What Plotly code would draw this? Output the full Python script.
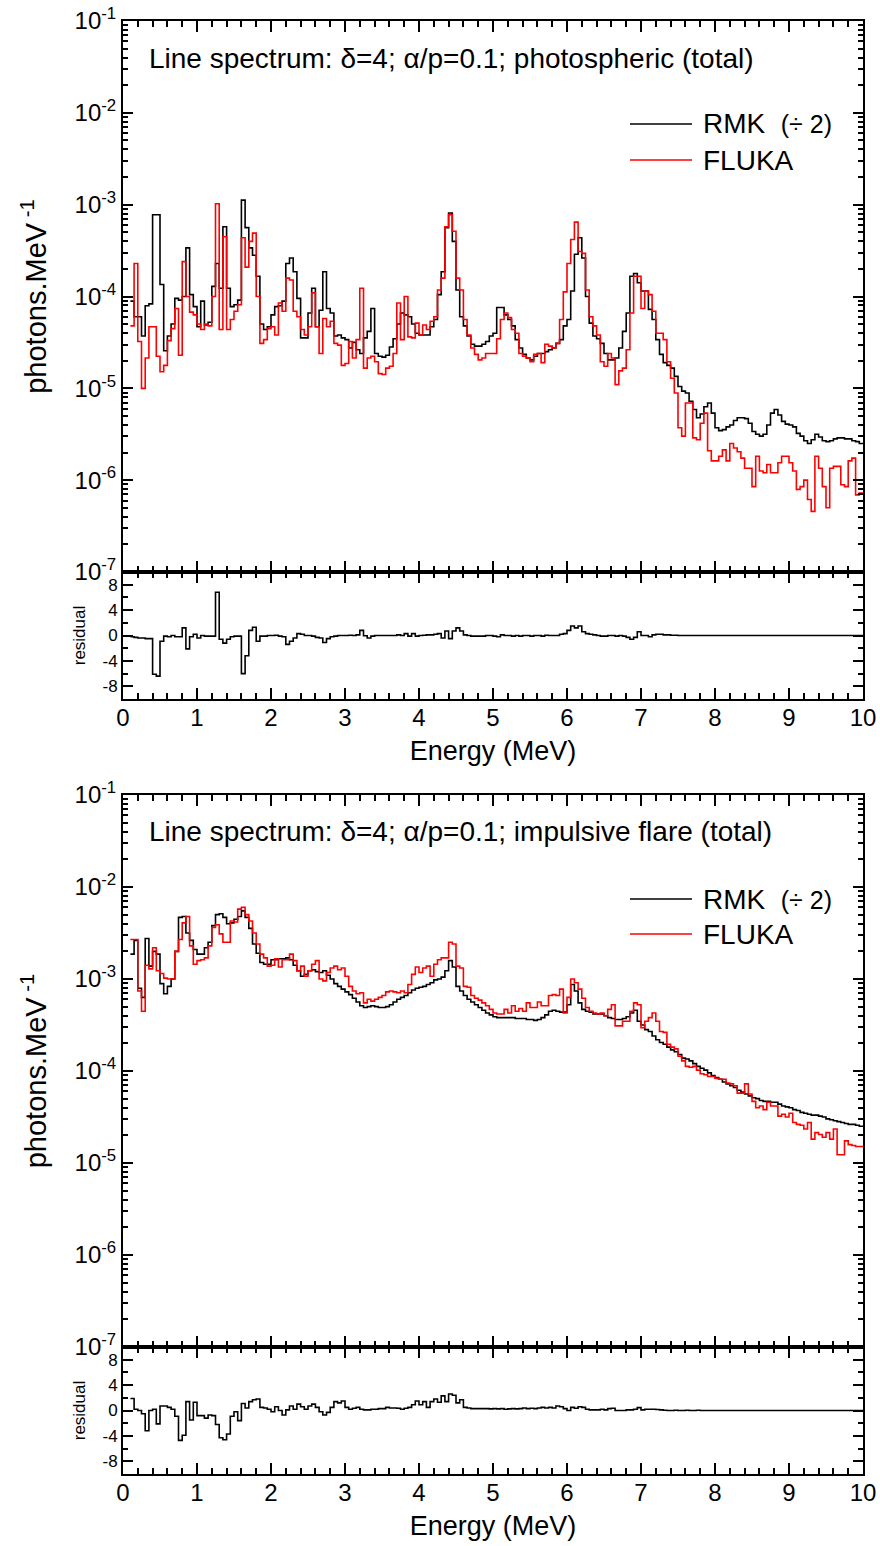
import plotly.graph_objects as go

# ---------------- data (log10 of photons/MeV, 0.05 MeV bins starting at 0.10 MeV) -------------
E0 = 0.10
DE = 0.05

rmk_top_log = [
    -4.05, -4.22, -4.22, -4.43, -4.10, -4.08, -3.11, -3.11,
    -3.87, -4.59, -4.43, -4.30, -4.02, -4.04, -4.00, -3.47, -3.98, -4.11,
    -4.33, -4.05, -4.31, -4.28, -3.89, -3.64, -3.91, -3.24, -3.91, -4.11,
    -4.09, -4.04, -2.95, -3.25, -3.47, -3.55, -3.78, -4.30, -4.36, -4.33,
    -4.20, -4.11, -4.10, -4.05, -3.64, -3.58, -3.73, -4.02, -4.45, -4.45,
    -4.18, -3.91, -4.33, -4.15, -3.73, -4.13, -4.18, -4.43, -4.42, -4.45,
    -4.47, -4.56, -4.50, -4.58, -4.62, -4.45, -4.38, -4.13, -4.62, -4.65,
    -4.66, -4.64, -4.55, -4.46, -4.30, -4.18, -4.20, -4.22, -4.30, -4.40,
    -4.42, -4.42, -4.42, -4.33, -4.25, -3.98, -3.73, -3.25, -3.09, -3.40,
    -3.93, -4.22, -4.32, -4.43, -4.52, -4.54, -4.54, -4.52, -4.49, -4.43,
    -4.40, -4.12, -4.12, -4.20, -4.25, -4.32, -4.47, -4.56, -4.63, -4.67,
    -4.69, -4.65, -4.62, -4.62, -4.60, -4.58, -4.56, -4.51, -4.47, -4.32,
    -4.25, -3.94, -3.54, -3.36, -3.58, -4.00, -4.29, -4.43, -4.46, -4.51,
    -4.62, -4.69, -4.69, -4.67, -4.56, -4.38, -4.18, -3.78, -3.75, -3.85,
    -3.94, -3.94, -4.14, -4.25, -4.47, -4.63, -4.72, -4.75, -4.78, -4.87,
    -4.98, -5.03, -5.05, -5.14, -5.23, -5.32, -5.28, -5.20, -5.16, -5.27,
    -5.43, -5.46, -5.45, -5.42, -5.40, -5.35, -5.32, -5.32, -5.33, -5.38,
    -5.47, -5.50, -5.52, -5.50, -5.40, -5.27, -5.23, -5.29, -5.36, -5.39,
    -5.40, -5.42, -5.49, -5.52, -5.57, -5.60, -5.56, -5.50, -5.53, -5.57,
    -5.58, -5.57, -5.55, -5.54, -5.54, -5.55, -5.55, -5.57, -5.58, -5.60,
]

fluka_top_log = [
    -4.32, -3.64, -4.49, -5.00, -4.67, -4.33, -4.33, -4.65,
    -4.82, -4.75, -4.48, -4.35, -4.13, -4.64, -3.62, -4.00, -4.17, -4.20,
    -4.30, -4.36, -4.30, -4.32, -4.00, -2.99, -4.36, -3.35, -4.36, -4.25,
    -4.16, -4.09, -3.36, -3.68, -3.40, -3.31, -4.00, -4.51, -4.47, -4.35,
    -4.33, -4.42, -4.07, -4.16, -3.80, -3.82, -4.16, -4.22, -4.36, -4.42,
    -4.33, -3.96, -4.33, -4.62, -4.24, -4.33, -4.27, -4.51, -4.53, -4.75,
    -4.73, -4.49, -4.67, -4.47, -3.91, -4.78, -4.67, -4.65, -4.71, -4.84,
    -4.85, -4.78, -4.76, -4.62, -4.07, -4.47, -4.00, -4.44, -4.45, -4.29,
    -4.42, -4.31, -4.36, -4.27, -4.22, -3.93, -3.80, -3.24, -3.11, -3.29,
    -3.80, -3.93, -4.25, -4.42, -4.56, -4.63, -4.69, -4.67, -4.62, -4.62,
    -4.62, -4.46, -4.25, -4.18, -4.23, -4.36, -4.40, -4.62, -4.65, -4.67,
    -4.71, -4.63, -4.62, -4.72, -4.52, -4.54, -4.56, -4.51, -4.25, -3.95,
    -3.64, -3.38, -3.19, -3.51, -3.53, -3.93, -4.22, -4.32, -4.42, -4.71,
    -4.76, -4.62, -4.67, -4.96, -4.81, -4.78, -4.58, -4.18, -3.78, -3.78,
    -4.13, -3.94, -3.98, -4.16, -4.40, -4.40, -4.47, -4.71, -4.89, -5.05,
    -5.43, -5.52, -5.16, -5.16, -5.54, -5.56, -5.38, -5.27, -5.68, -5.79,
    -5.79, -5.74, -5.67, -5.79, -5.60, -5.65, -5.69, -5.76, -5.87, -5.87,
    -6.07, -5.74, -5.90, -5.92, -5.83, -5.92, -5.92, -5.81, -5.74, -5.74,
    -5.81, -5.90, -6.10, -6.07, -6.00, -6.21, -6.34, -5.74, -5.87, -6.07,
    -6.30, -5.87, -5.85, -5.85, -6.05, -6.07, -5.79, -5.76, -6.16, -6.14,
]

resid_top = [
    -0.2, -0.3, -0.4, -0.4, -0.5, -0.5, -6.1, -6.4,
    -0.9, -0.1, -0.2, 0.0, -0.2, -0.2, 1.2, -2.1, -0.2, 0.2,
    -0.4, 0.0, -0.1, -0.1, -0.1, 6.8, -0.6, -1.2, -0.6, -0.2,
    -0.1, -0.1, -6.0, -3.2, 0.8, 1.3, -0.9, -0.1, -0.1, 0.0,
    0.0, 0.05, -0.1, -0.2, -1.4, -0.9, -0.4, 0.3, 0.2, 0.0,
    0.0, -0.1, -0.3, -0.4, -1.1, -0.5, -0.2, -0.1, 0.0, 0.0,
    0.0, 0.05, 0.0, 0.1, 0.8, -0.05, -0.4, -0.1, 0.0, 0.0,
    0.0, 0.0, 0.0, 0.0, 0.1, 0.0, 0.3, -0.1, 0.3, -0.1,
    0.0, 0.05, 0.1, 0.1, 0.2, 0.3, -0.4, 0.7, -0.5, 0.7,
    1.2, 0.7, 0.1, 0.0, -0.1, -0.1, -0.1, -0.1, 0.0, 0.0,
    -0.1, -0.2, 0.1, 0.0, 0.0, -0.1, 0.0, -0.1, 0.0, 0.0,
    -0.1, 0.0, 0.0, -0.1, 0.05, 0.0, 0.0, 0.0, 0.2, 0.3,
    0.8, 1.5, 1.2, 1.5, 0.6, 0.3, 0.2, 0.1, 0.0, -0.1,
    -0.1, 0.0, 0.0, -0.1, 0.0, -0.1, -0.3, -0.6, -0.3, 0.6,
    0.0, 0.0, -0.2, 0.1, 0.2, 0.2, 0.1, 0.1, 0.05, 0.05,
    0.0, 0.0, 0.0, 0.0, 0.0, 0.0, 0.0, 0.0, 0.0, 0.0,
    0.0, 0.0, 0.0, 0.0, 0.0, 0.0, 0.0, 0.0, 0.0, 0.0,
    0.0, 0.0, 0.0, 0.0, 0.0, 0.0, 0.0, 0.0, 0.0, 0.0,
    0.0, 0.0, 0.0, 0.0, 0.0, 0.0, 0.0, 0.0, 0.0, 0.0,
    0.0, 0.0, 0.0, 0.0, 0.0, 0.0, 0.0, 0.0, 0.0, 0.0,
]

rmk_bot_log = [
    -2.73, -2.58, -3.10, -3.20, -2.56, -2.86, -2.70, -2.73,
    -3.05, -3.16, -3.08, -3.00, -2.70, -2.33, -2.32, -2.50, -2.58, -2.68,
    -2.73, -2.73, -2.66, -2.60, -2.42, -2.30, -2.29, -2.33, -2.40, -2.39,
    -2.35, -2.32, -2.26, -2.33, -2.45, -2.62, -2.72, -2.82, -2.84, -2.84,
    -2.79, -2.79, -2.78, -2.78, -2.77, -2.79, -2.85, -2.91, -2.97, -2.95,
    -2.91, -2.90, -2.92, -2.93, -2.91, -2.96, -3.00, -3.05, -3.08, -3.11,
    -3.14, -3.17, -3.21, -3.25, -3.29, -3.31, -3.30, -3.29, -3.30, -3.31,
    -3.31, -3.30, -3.28, -3.25, -3.22, -3.20, -3.18, -3.15, -3.12, -3.10,
    -3.09, -3.08, -3.06, -3.04, -3.01, -3.00, -2.98, -2.91, -2.80, -2.87,
    -3.08, -3.13, -3.18, -3.22, -3.25, -3.28, -3.31, -3.34, -3.37, -3.39,
    -3.41, -3.42, -3.42, -3.42, -3.42, -3.42, -3.43, -3.43, -3.43, -3.44,
    -3.44, -3.45, -3.44, -3.42, -3.39, -3.35, -3.34, -3.35, -3.36, -3.36,
    -3.28, -3.06, -3.13, -3.26, -3.33, -3.35, -3.36, -3.38, -3.38, -3.38,
    -3.40, -3.42, -3.43, -3.44, -3.44, -3.43, -3.41, -3.37, -3.34, -3.46,
    -3.50, -3.55, -3.57, -3.62, -3.66, -3.69, -3.71, -3.74, -3.77, -3.79,
    -3.82, -3.86, -3.87, -3.89, -3.92, -3.95, -3.97, -3.99, -4.02, -4.05,
    -4.07, -4.09, -4.12, -4.14, -4.16, -4.18, -4.21, -4.23, -4.25, -4.27,
    -4.29, -4.30, -4.32, -4.33, -4.33, -4.34, -4.34, -4.36, -4.38, -4.39,
    -4.40, -4.42, -4.43, -4.45, -4.46, -4.47, -4.48, -4.48, -4.49, -4.50,
    -4.52, -4.53, -4.54, -4.55, -4.56, -4.57, -4.58, -4.58, -4.59, -4.60,
]

fluka_bot_log = [
    -2.57, -2.57, -3.13, -3.35, -2.85, -2.89, -2.66, -2.91,
    -2.94, -2.99, -3.00, -3.00, -2.70, -2.57, -2.39, -2.32, -2.64, -2.84,
    -2.80, -2.79, -2.77, -2.64, -2.44, -2.41, -2.51, -2.60, -2.60, -2.37,
    -2.38, -2.24, -2.22, -2.30, -2.37, -2.50, -2.62, -2.73, -2.77, -2.86,
    -2.85, -2.78, -2.87, -2.79, -2.79, -2.73, -2.80, -2.91, -2.86, -2.97,
    -2.91, -2.84, -2.80, -3.00, -3.02, -2.93, -2.88, -2.86, -2.90, -2.88,
    -2.97, -3.08, -3.13, -3.16, -3.15, -3.26, -3.22, -3.24, -3.22, -3.20,
    -3.18, -3.14, -3.13, -3.14, -3.15, -3.13, -3.15, -3.06, -2.95, -2.87,
    -2.93, -2.88, -2.86, -2.97, -2.84, -2.79, -2.77, -2.77, -2.60, -2.62,
    -2.86, -2.88, -3.08, -3.09, -3.18, -3.21, -3.23, -3.26, -3.29, -3.33,
    -3.37, -3.38, -3.38, -3.33, -3.37, -3.29, -3.35, -3.32, -3.35, -3.26,
    -3.31, -3.31, -3.25, -3.29, -3.29, -3.18, -3.17, -3.18, -3.11, -3.37,
    -3.20, -3.00, -3.04, -3.11, -3.21, -3.31, -3.35, -3.37, -3.38, -3.37,
    -3.40, -3.33, -3.28, -3.51, -3.51, -3.46, -3.46, -3.35, -3.26, -3.28,
    -3.53, -3.46, -3.42, -3.37, -3.46, -3.57, -3.58, -3.71, -3.74, -3.76,
    -3.84, -3.89, -3.95, -3.96, -3.95, -3.99, -4.03, -4.04, -4.06, -4.06,
    -4.08, -4.09, -4.09, -4.13, -4.14, -4.16, -4.24, -4.24, -4.14, -4.25,
    -4.33, -4.40, -4.38, -4.42, -4.34, -4.38, -4.38, -4.49, -4.47, -4.50,
    -4.46, -4.56, -4.58, -4.59, -4.63, -4.56, -4.74, -4.67, -4.69, -4.72,
    -4.67, -4.74, -4.63, -4.91, -4.91, -4.76, -4.80, -4.81, -4.82, -4.82,
]

resid_bot = [
    1.9, 0.2, 0.0, -0.5, -3.2, 0.0, 0.2, -2.1,
    0.7, 0.7, 0.5, 0.2, -0.9, -4.7, -3.9, 1.4, -1.5, 1.3,
    -0.8, -0.8, -1.2, -0.7, -0.8, -2.2, -4.3, -4.6, -3.7, -0.9,
    -0.2, -1.6, 1.1, 0.4, 1.4, 1.7, 1.8, 0.5, 0.4, 0.2,
    -0.2, 0.6, 0.0, -0.7, 0.1, 0.7, 0.2, 1.0, 0.6, 0.2,
    0.7, 1.0, 0.5, -0.2, -0.7, -0.3, 0.5, 1.4, 1.2, 1.5,
    0.5, 0.2, 0.35, 0.5, 0.2, 0.1, 0.1, 0.2, 0.2, 0.3,
    0.3, 0.5, 0.4, 0.4, 0.35, 0.2, 0.35, 0.5, 0.9, 1.5,
    0.9, 1.4, 0.5, 1.4, 1.8, 1.3, 2.3, 1.4, 2.6, 2.4,
    1.2, 1.7, 0.5, 0.4, 0.3, 0.3, 0.3, 0.3, 0.3, 0.25,
    0.3, 0.25, 0.3, 0.2, 0.25, 0.3, 0.25, 0.3, 0.4, 0.3,
    0.35, 0.3, 0.4, 0.5, 0.4, 0.5, 0.4, 0.7, 0.6, 0.3,
    0.0, 0.5, 0.35, 0.6, 0.5, 0.2, 0.1, 0.1, 0.1, 0.2,
    0.1, 0.3, 0.35, 0.0, 0.0, 0.0, 0.1, 0.1, 0.2, 0.45,
    0.1, 0.2, 0.2, 0.2, 0.15, 0.1, 0.05, 0.0, 0.0, 0.05,
    0.0, 0.0, 0.05, 0.0, 0.0, 0.05, 0.0, 0.0, 0.0, 0.0,
    0.0, 0.0, 0.0, 0.0, 0.0, 0.0, 0.0, 0.0, 0.0, 0.0,
    0.0, 0.0, 0.0, 0.0, 0.0, 0.0, 0.0, 0.0, 0.0, 0.0,
    0.0, 0.0, 0.0, 0.0, 0.0, 0.0, 0.0, 0.0, 0.0, 0.0,
    0.0, 0.0, 0.0, 0.0, 0.0, 0.0, 0.0, 0.0, 0.0, 0.0,
]

decades = [-7, -6, -5, -4, -3, -2, -1]
x_ticks = list(range(0, 11))
resid_ticks = [-8, -4, 0, 4, 8]
resid_ticktext = ["-8", "-4", "0", "4", "8"]

titles = ["Line spectrum: \u03b4=4; \u03b1/p=0.1; photospheric (total)",
          "Line spectrum: \u03b4=4; \u03b1/p=0.1; impulsive flare (total)"]
series_names = ["RMK", "FLUKA"]

# ---------------- figure ----------------
W, H = 880, 1546
FONT = "Liberation Sans, Arial, sans-serif"


def step(vals, log=False):
    n = len(vals)
    xs = [E0 + DE * i for i in range(n + 1)]
    ys = [(10 ** v if log else v) for v in vals] + [(10 ** vals[-1] if log else vals[-1])]
    return xs, ys


def py(p):  # pixel from top -> paper y
    return 1 - p / H


def pxx(p):
    return p / W


fig = go.Figure()

panels = [
    (rmk_top_log, fluka_top_log, resid_top, "x", "y", "x2", "y2"),
    (rmk_bot_log, fluka_bot_log, resid_bot, "x3", "y3", "x4", "y4"),
]
for rmk, flk, res, xm, ym, xr, yr in panels:
    xs, ys = step(rmk, log=True)
    fig.add_trace(go.Scatter(x=xs, y=ys, mode="lines", line=dict(color="black", width=1.6, shape="hv"),
                             name=series_names[0], showlegend=False, xaxis=xm, yaxis=ym))
    xs, ys = step(flk, log=True)
    fig.add_trace(go.Scatter(x=xs, y=ys, mode="lines", line=dict(color="#ff0000", width=1.6, shape="hv"),
                             name=series_names[1], showlegend=False, xaxis=xm, yaxis=ym))
    xs, ys = step(res)
    fig.add_trace(go.Scatter(x=xs, y=ys, mode="lines", line=dict(color="black", width=1.6, shape="hv"),
                             name="residual", showlegend=False, xaxis=xr, yaxis=yr))

xdom = [pxx(123), pxx(863)]
dom_main1 = [py(572), py(21)]
dom_res1 = [py(699), py(572)]
dom_main2 = [py(1347), py(795)]
dom_res2 = [py(1474), py(1347)]

common_line = dict(showline=True, linecolor="black", linewidth=2, mirror="ticks",
                   ticks="inside", tickcolor="black", showgrid=False, zeroline=False,
                   automargin=False, ticklabeloverflow="allow")


def xaxis(anchor, labels):
    d = dict(common_line, domain=xdom, anchor=anchor, range=[0, 10],
             tickmode="array", tickvals=x_ticks, ticklen=11, tickwidth=2,
             minor=dict(dtick=0.2, tick0=0, ticks="inside", ticklen=6, tickwidth=1.6, tickcolor="black"),
             showticklabels=labels,
             tickfont=dict(family=FONT, size=24, color="black"))
    if labels:
        d["ticklabelstandoff"] = -4
        d["title"] = dict(text="Energy (MeV)", font=dict(family=FONT, size=27, color="black"), standoff=11)
    return d


minor_log = [m * 10.0 ** e for e in decades[:-1] for m in range(2, 10)]


def ymain(dom, anchor):
    return dict(common_line, domain=dom, anchor=anchor, type="log", range=[-7, -1],
                tickmode="array", tickvals=[10.0 ** d for d in decades],
                ticktext=["10<sup>%d</sup>" % d for d in decades],
                ticklen=10, tickwidth=2,
                minor=dict(tickmode="array", tickvals=minor_log, ticks="inside", ticklen=5,
                           tickwidth=1.6, tickcolor="black"),
                tickfont=dict(family=FONT, size=24, color="black"),
                title=dict(text="photons.MeV<sup> -1</sup>", font=dict(family=FONT, size=29, color="black"),
                           standoff=19))


def yres(dom, anchor):
    return dict(common_line, domain=dom, anchor=anchor, range=[-10, 10],
                tickmode="array", tickvals=resid_ticks, ticktext=resid_ticktext,
                ticklen=10, tickwidth=2,
                minor=dict(dtick=2, tick0=0, ticks="inside", ticklen=5, tickwidth=1.6, tickcolor="black"),
                tickfont=dict(family=FONT, size=17, color="black"),
                title=dict(text="residual", font=dict(family=FONT, size=17, color="black"), standoff=13))


annotations = []
shapes = []
for (ty, leg1, leg2, ttl) in [(58, 124, 160, titles[0]), (832, 899, 934, titles[1])]:
    annotations.append(dict(text=ttl, x=pxx(147), y=py(ty), xref="paper", yref="paper",
                            xanchor="left", yanchor="middle", showarrow=False,
                            font=dict(family=FONT, size=28, color="black")))
    annotations.append(dict(text="RMK  <span style='font-size:25px'>(\u00f7 2)</span>", x=pxx(701), y=py(leg1),
                            xref="paper", yref="paper", xanchor="left", yanchor="middle", showarrow=False,
                            font=dict(family=FONT, size=28, color="black")))
    annotations.append(dict(text="FLUKA", x=pxx(701), y=py(leg2),
                            xref="paper", yref="paper", xanchor="left", yanchor="middle", showarrow=False,
                            font=dict(family=FONT, size=28, color="black")))
    shapes.append(dict(type="line", xref="paper", yref="paper", x0=pxx(630), x1=pxx(692),
                       y0=py(leg1), y1=py(leg1), line=dict(color="black", width=1.6)))
    shapes.append(dict(type="line", xref="paper", yref="paper", x0=pxx(630), x1=pxx(692),
                       y0=py(leg2), y1=py(leg2), line=dict(color="#ff0000", width=1.6)))

fig.update_layout(
    width=W, height=H, autosize=False,
    margin=dict(l=0, r=0, t=0, b=0, autoexpand=False),
    paper_bgcolor="white", plot_bgcolor="white",
    font=dict(family=FONT, color="black"),
    showlegend=False,
    xaxis=xaxis("y", False), yaxis=ymain(dom_main1, "x"),
    xaxis2=xaxis("y2", True), yaxis2=yres(dom_res1, "x2"),
    xaxis3=xaxis("y3", False), yaxis3=ymain(dom_main2, "x3"),
    xaxis4=xaxis("y4", True), yaxis4=yres(dom_res2, "x4"),
    annotations=annotations, shapes=shapes,
)

# remove the default 8px page margin so the 880x1546 figure fills the window exactly
fig.write_html("out.html", config={"displayModeBar": False},
               post_script="document.body.style.margin='0px';"
                           "document.documentElement.style.overflow='hidden';")
